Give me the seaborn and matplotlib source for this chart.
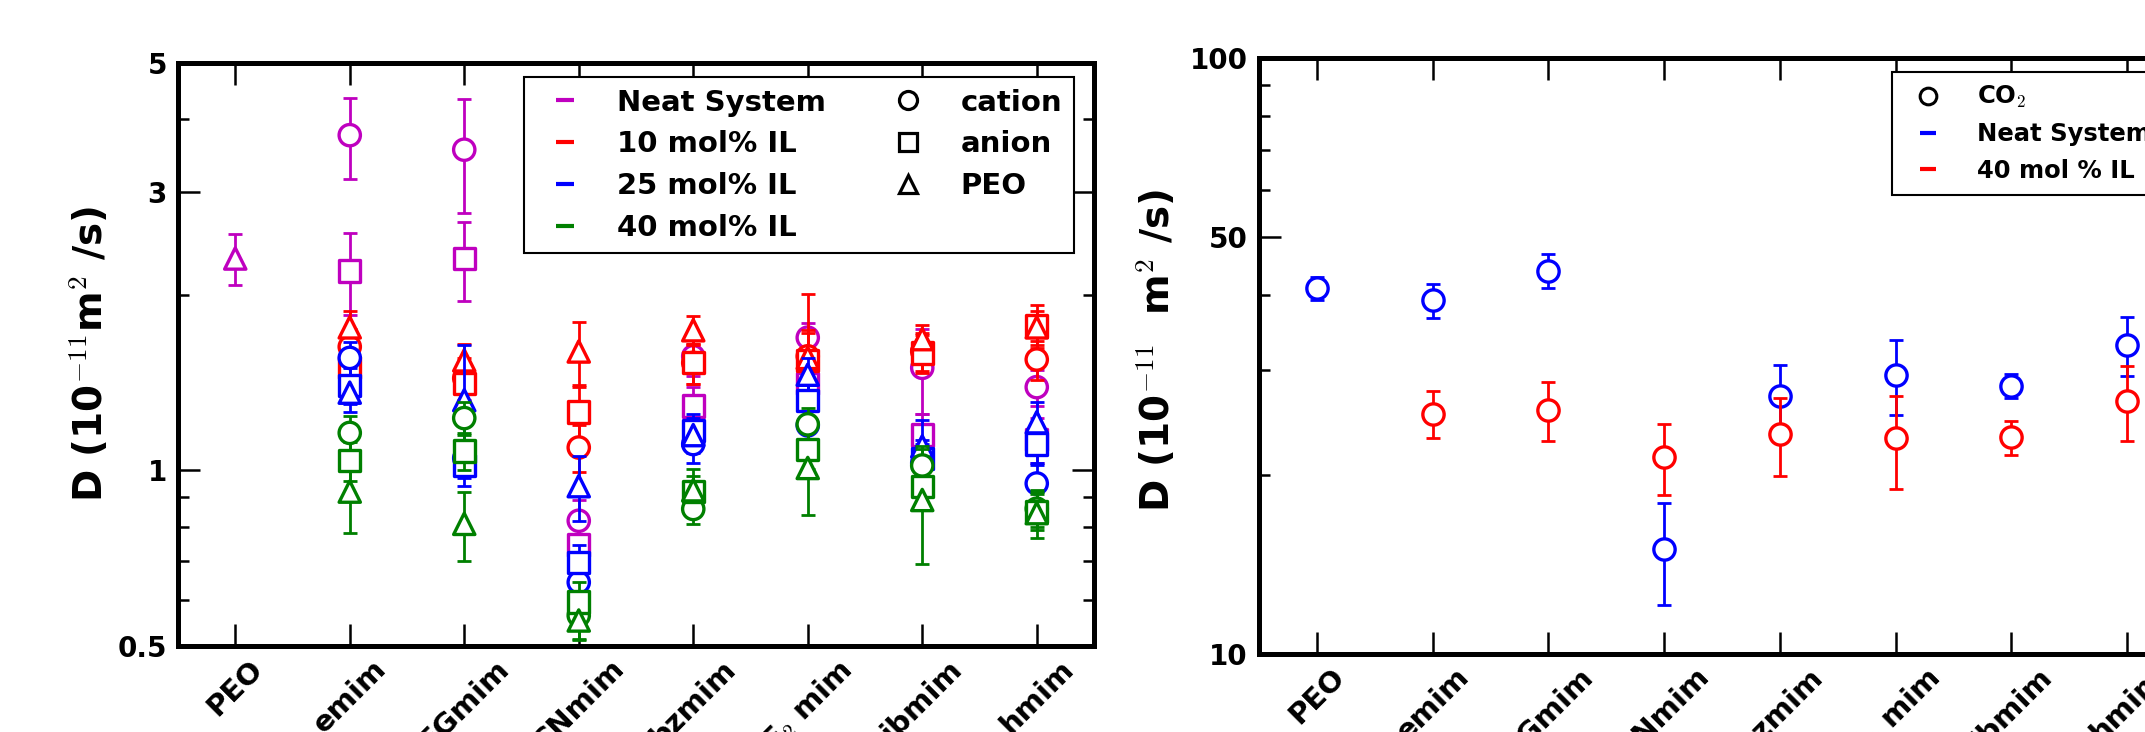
import numpy as np
import pandas as pd
import matplotlib
matplotlib.use("Agg")
import matplotlib.pyplot as plt
import seaborn as sns
from matplotlib.lines import Line2D
from matplotlib.ticker import FixedLocator, NullFormatter

nan = np.nan
categories = ["PEO", "emim", "EGmim", "CNmim", "bzmim", "F$_2$ mim", "ibmim", "hmim"]

# ---- left panel: ion / PEO diffusion (10^-11 m^2/s) ----
neat_cation = [nan, 3.76, 3.55, 0.82, 1.57, 1.69, 1.50, 1.39]
neat_cation_err = [nan, 0.60, 0.78, 0.07, 0.12, 0.10, 0.25, 0.10]
neat_anion = [nan, 2.20, 2.31, 0.745, 1.29, 1.41, 1.15, 1.13]
neat_anion_err = [nan, 0.35, 0.36, 0.08, 0.10, 0.10, 0.10, 0.10]
neat_peo = [2.31, nan, nan, nan, nan, nan, nan, nan]
neat_peo_err = [0.23, nan, nan, nan, nan, nan, nan, nan]

il10_cation = [nan, 1.63, 1.44, 1.095, 1.53, 1.57, 1.60, 1.55]
il10_cation_err = [nan, 0.12, 0.12, 0.10, 0.12, 0.15, 0.12, 0.12]
il10_anion = [nan, 1.50, 1.41, 1.26, 1.53, 1.545, 1.59, 1.77]
il10_anion_err = [nan, 0.12, 0.12, 0.13, 0.12, 0.20, 0.12, 0.15]
il10_peo = [nan, 1.76, 1.545, 1.60, 1.74, 1.56, 1.68, 1.76]
il10_peo_err = [nan, 0.12, 0.10, 0.20, 0.10, 0.45, 0.10, 0.12]

il25_cation = [nan, 1.56, 1.05, 0.643, 1.11, 1.195, 1.03, 0.95]
il25_cation_err = [nan, 0.10, 0.08, 0.05, 0.08, 0.08, 0.08, 0.07]
il25_anion = [nan, 1.40, 1.02, 0.696, 1.17, 1.32, 1.05, 1.11]
il25_anion_err = [nan, 0.10, 0.08, 0.05, 0.08, 0.10, 0.08, 0.08]
il25_peo = [nan, 1.36, 1.32, 0.94, 1.15, 1.46, 1.10, 1.21]
il25_peo_err = [nan, 0.10, 0.32, 0.12, 0.08, 0.10, 0.12, 0.10]

il40_cation = [nan, 1.16, 1.23, 0.564, 0.859, 1.20, 1.02, 0.86]
il40_cation_err = [nan, 0.08, 0.08, 0.05, 0.05, 0.08, 0.08, 0.06]
il40_anion = [nan, 1.04, 1.08, 0.595, 0.92, 1.085, 0.94, 0.85]
il40_anion_err = [nan, 0.08, 0.08, 0.05, 0.06, 0.08, 0.08, 0.06]
il40_peo = [nan, 0.92, 0.81, 0.553, 0.925, 1.01, 0.89, 0.845]
il40_peo_err = [nan, 0.14, 0.11, 0.04, 0.08, 0.17, 0.20, 0.08]

# ---- right panel: CO2 diffusion ----
co2_neat = [41.05, 39.2, 44.0, 15.0, 27.1, 29.4, 28.2, 33.0]
co2_neat_err = [1.8, 2.6, 2.9, 2.9, 3.5, 4.2, 1.3, 3.7]
co2_il40 = [nan, 25.3, 25.7, 21.4, 23.4, 23.0, 23.1, 26.6]
co2_il40_err = [nan, 2.3, 2.9, 2.9, 3.5, 4.1, 1.5, 3.8]

systems = ["Neat System", "10 mol% IL", "25 mol% IL", "40 mol% IL"]
sys_colors = ["#bf00bf", "#ff0000", "#0000ff", "#008000"]
species = ["cation", "anion", "PEO"]
species_markers = {"cation": "o", "anion": "s", "PEO": "^"}

left_series = {
    ("Neat System", "cation"): (neat_cation, neat_cation_err),
    ("Neat System", "anion"): (neat_anion, neat_anion_err),
    ("Neat System", "PEO"): (neat_peo, neat_peo_err),
    ("10 mol% IL", "cation"): (il10_cation, il10_cation_err),
    ("10 mol% IL", "anion"): (il10_anion, il10_anion_err),
    ("10 mol% IL", "PEO"): (il10_peo, il10_peo_err),
    ("25 mol% IL", "cation"): (il25_cation, il25_cation_err),
    ("25 mol% IL", "anion"): (il25_anion, il25_anion_err),
    ("25 mol% IL", "PEO"): (il25_peo, il25_peo_err),
    ("40 mol% IL", "cation"): (il40_cation, il40_cation_err),
    ("40 mol% IL", "anion"): (il40_anion, il40_anion_err),
    ("40 mol% IL", "PEO"): (il40_peo, il40_peo_err),
}

rows = []
for (sysname, sp), (vals, errs) in left_series.items():
    for i, (v, e) in enumerate(zip(vals, errs)):
        if not np.isnan(v):
            rows.append(dict(pos=i, D=v, err=e, system=sysname, species=sp))
left_df = pd.DataFrame(rows)

rows = []
for sysname, vals, errs in [("Neat System", co2_neat, co2_neat_err),
                            ("40 mol % IL", co2_il40, co2_il40_err)]:
    for i, (v, e) in enumerate(zip(vals, errs)):
        if not np.isnan(v):
            rows.append(dict(pos=i, D=v, err=e, system=sysname))
right_df = pd.DataFrame(rows)

sns.set_style("ticks")
plt.rcParams["font.family"] = ["DejaVu Sans"]
plt.rcParams["font.weight"] = "bold"
plt.rcParams["mathtext.fontset"] = "cm"
for k in ["text.color", "axes.labelcolor", "xtick.color", "ytick.color",
          "axes.edgecolor"]:
    plt.rcParams[k] = "black"

fig = plt.figure(figsize=(21.45, 7.32), dpi=100)
axL = fig.add_axes([178 / 2145, 1 - 646 / 732, 916 / 2145, 583 / 732])
axR = fig.add_axes([1259 / 2145, 1 - 654 / 732, 926 / 2145, 596 / 732])

MS = 235
EW = 2.4
ELW = 2.0
CAP = 4.8

z = 3
for sysname, col in zip(systems, sys_colors):
    sub = left_df[left_df.system == sysname]
    axL.errorbar(sub.pos, sub.D, yerr=sub.err, fmt="none", ecolor=col,
                 elinewidth=ELW, capsize=CAP, capthick=ELW, zorder=z)
    sns.scatterplot(data=sub, x="pos", y="D", style="species",
                    markers=species_markers, color=col, facecolor="white",
                    edgecolor=col, linewidth=EW, s=MS, legend=False,
                    ax=axL, zorder=z + 0.5)
    z += 1

for sysname, col in zip(["Neat System", "40 mol % IL"], ["#0000ff", "#ff0000"]):
    sub = right_df[right_df.system == sysname]
    axR.errorbar(sub.pos, sub.D, yerr=sub.err, fmt="none", ecolor=col,
                 elinewidth=ELW, capsize=CAP, capthick=ELW, zorder=z)
    sns.scatterplot(data=sub, x="pos", y="D", marker="o", color=col,
                    facecolor="white", edgecolor=col, linewidth=EW, s=MS,
                    legend=False, ax=axR, zorder=z + 0.5)
    z += 1


def style_axes(ax, ylim, major, major_lbl, minor, ylabel, lblx, lbly):
    ax.set_yscale("log")
    ax.set_ylim(*ylim)
    ax.set_xlim(-0.5, 7.5)
    ax.yaxis.set_major_locator(FixedLocator(major))
    ax.set_yticklabels(major_lbl)
    ax.yaxis.set_minor_locator(FixedLocator(minor))
    ax.yaxis.set_minor_formatter(NullFormatter())
    ax.set_xticks(range(len(categories)))
    ax.set_xticklabels(categories, rotation=45, ha="center",
                       fontsize=21, fontweight="bold")
    for lbl in ax.get_yticklabels():
        lbl.set_fontsize(20)
        lbl.set_fontweight("bold")
    ax.tick_params(axis="x", which="major", direction="in", length=16,
                   width=1.8, top=True, bottom=True, pad=6, colors="black")
    ax.tick_params(axis="y", which="major", direction="in", length=16,
                   width=1.8, left=True, right=True, pad=8, colors="black")
    ax.tick_params(axis="y", which="minor", direction="in", length=8,
                   width=1.8, left=True, right=True, colors="black")
    for sp in ax.spines.values():
        sp.set_linewidth(3.6)
        sp.set_color("black")
        sp.set_visible(True)
    ax.set_xlabel("")
    ax.set_ylabel(ylabel, fontsize=28, fontweight="bold", color="black")
    ax.yaxis.set_label_coords(lblx, lbly)


style_axes(axL, (0.5, 5), [0.5, 1, 3, 5], ["0.5", "1", "3", "5"],
           [0.6, 0.7, 0.8, 0.9, 2, 4],
           r"D (10$^{-11}$m$^{2}$ /s)", -0.073, 0.5)
style_axes(axR, (10, 100), [10, 50, 100], ["10", "50", "100"],
           [20, 30, 40, 60, 70, 80, 90],
           r"D (10$^{-11}$  m$^{2}$ /s)", -0.0875, 0.51)

# legends
handles = [Line2D([], [], linestyle="none", marker="_", markersize=13,
                  markeredgewidth=3, color=c) for c in sys_colors]
handles += [Line2D([], [], linestyle="none", marker=species_markers[s],
                   markersize=13, markerfacecolor="none",
                   markeredgecolor="black", markeredgewidth=2.3)
            for s in species]
labels = systems + species
legL = axL.legend(handles, labels, ncol=2, loc="upper left",
                  bbox_to_anchor=(524 / 2145, 1 - 77 / 732),
                  bbox_transform=fig.transFigure, borderaxespad=0,
                  columnspacing=1.8, labelspacing=0.47,
                  fancybox=False, framealpha=1, edgecolor="black",
                  prop=dict(size=21, weight="bold"))
legL.get_frame().set_linewidth(1.5)

handlesR = [Line2D([], [], linestyle="none", marker="o", markersize=12,
                   markerfacecolor="none", markeredgecolor="black",
                   markeredgewidth=2.2),
            Line2D([], [], linestyle="none", marker="_", markersize=12,
                   markeredgewidth=3, color="#0000ff"),
            Line2D([], [], linestyle="none", marker="_", markersize=12,
                   markeredgewidth=3, color="#ff0000")]
labelsR = ["CO$_2$", "Neat System", "40 mol % IL"]
legR = axR.legend(handlesR, labelsR, loc="upper left",
                  bbox_to_anchor=(1892 / 2145, 1 - 72 / 732),
                  bbox_transform=fig.transFigure, borderaxespad=0,
                  borderpad=0.5, labelspacing=0.5, handletextpad=1.0,
                  fancybox=False, framealpha=1, edgecolor="black",
                  prop=dict(size=17.5, weight="bold"))
legR.get_frame().set_linewidth(1.5)

fig.savefig("out.png", dpi=100)
